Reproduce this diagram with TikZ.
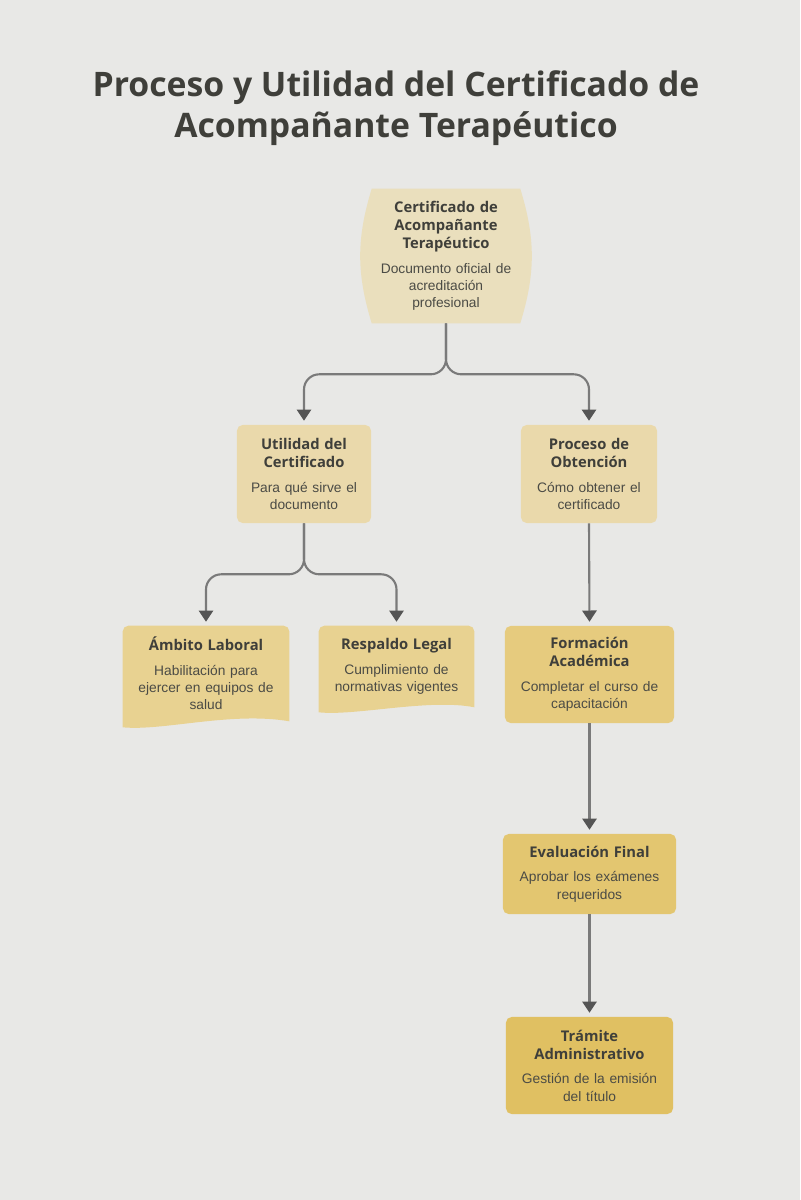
\documentclass[tikz,border=0pt]{standalone}
\usepackage{fontspec}
\setmainfont{Liberation Sans}
\newfontfamily\headfont{Open Sans}
\usepackage{tikz}
\usetikzlibrary{arrows.meta, positioning, backgrounds, calc}
\definecolor{pagebg}{HTML}{E8E8E6}
\definecolor{cert}{HTML}{EADFBD}
\definecolor{branch}{HTML}{EAD9AB}
\definecolor{useleaf}{HTML}{E8D291}
\definecolor{stepa}{HTML}{E6CB7E}
\definecolor{stepb}{HTML}{E3C670}
\definecolor{stepc}{HTML}{E0C062}
\definecolor{headtxt}{HTML}{3F3F3A}
\definecolor{desctxt}{HTML}{4B4B45}
\definecolor{linegray}{HTML}{7A7A7A}
\definecolor{tipgray}{HTML}{555555}
\tikzset{
  box/.style={rectangle, rounded corners=4pt, inner sep=0pt, align=center},
  plain/.style={rectangle, inner sep=0pt, align=center},
  conn/.style={draw=linegray, line width=1.5pt, rounded corners=0.38cm,
               -{Triangle[length=0.28cm, width=0.36cm, color=tipgray]},
               shorten >=0.1cm},
}
\newcommand{\boxtxt}[2]{%
  {\headfont\bfseries\color{headtxt}\fontsize{10.5}{12.8}\selectfont #1\par}%
  \vspace{5pt}%
  {\color{desctxt}\fontsize{9.8}{12.4}\selectfont #2\par}}

\begin{document}
\begin{tikzpicture}[x=0.025cm, y=-0.025cm]
  \begin{scope}[on background layer]
    \fill[pagebg] (0,0) rectangle (800,1200);
  \end{scope}
  \useasboundingbox (0,0) rectangle (800,1200);

  % title
  \node[align=center, text=headtxt, font=\headfont\bfseries\fontsize{24}{29}\selectfont]
        (title) at (396,108) {Proceso y Utilidad del Certificado de\\Acompañante Terapéutico};

  % top node
  \node[plain, text width=3.7cm, minimum height=3.35cm] (cert) at (446,256)
        {\boxtxt{Certificado de\\Acompañante\\Terapéutico}{Documento oficial de\\acreditación\\profesional}};

  % branches
  \node[box, fill=branch, text width=3.35cm, minimum height=2.45cm] (util) at (304,474)
        {\boxtxt{Utilidad del\\Certificado}{Para qué sirve el\\documento}};
  \node[box, fill=branch, text width=3.4cm, minimum height=2.45cm] (proc) at (589,474)
        {\boxtxt{Proceso de\\Obtención}{Cómo obtener el\\certificado}};

  % uses
  \node[plain, text width=4.15cm, minimum height=2.375cm] (amb) at (206,673.5)
        {\boxtxt{Ámbito Laboral}{Habilitación para\\ejercer en equipos de\\salud}};
  \node[plain, text width=3.875cm, minimum height=2.025cm] (resp) at (396.5,666.5)
        {\boxtxt{Respaldo Legal}{Cumplimiento de\\normativas vigentes}};

  % steps
  \node[box, fill=stepa, text width=4.225cm, minimum height=2.425cm] (form) at (589.5,674.5)
        {\boxtxt{Formación\\Académica}{Completar el curso de\\capacitación}};
  \node[box, fill=stepb, text width=4.325cm, minimum height=2.0cm] (eval) at (589.5,874)
        {\boxtxt{Evaluación Final}{Aprobar los exámenes\\requeridos}};
  \node[box, fill=stepc, text width=4.175cm, minimum height=2.425cm] (tram) at (589.5,1065.5)
        {\boxtxt{Trámite\\Administrativo}{Gestión de la emisión\\del título}};

  % shaped fills behind text
  \begin{scope}[on background layer]
    \fill[cert] (cert.north west) -- (cert.north east)
          to[bend left=17] (cert.south east) -- (cert.south west)
          to[bend left=17] cycle;
    \fill[useleaf, rounded corners=4pt] (amb.south west) -- (amb.north west) -- (amb.north east)
          [sharp corners] -- (amb.south east)
          .. controls ($(amb.south east)+(-58,-10)$) and ($(amb.south west)+(40,10)$) .. ($(amb.south west)+(0,6)$)
          -- cycle;
    \fill[useleaf, rounded corners=4pt] (resp.south west) -- (resp.north west) -- (resp.north east)
          [sharp corners] -- (resp.south east)
          .. controls ($(resp.south east)+(-45,-9)$) and ($(resp.south west)+(36,9)$) .. ($(resp.south west)+(0,5)$)
          -- cycle;
  \end{scope}

  % connectors
  \coordinate (split1) at ($(cert.south)+(0,51)$);
  \coordinate (split2) at ($(util.south)+(0,51)$);
  \draw[conn] (cert.south) -- (split1) -| (util.north);
  \draw[conn] (cert.south) -- (split1) -| (proc.north);
  \draw[conn] (util.south) -- (split2) -| (amb.north);
  \draw[conn] (util.south) -- (split2) -| (resp.north);
  \draw[conn] (proc.south) -- (form.north);
  \draw[conn] (form.south) -- (eval.north);
  \draw[conn] (eval.south) -- (tram.north);
\end{tikzpicture}
\end{document}
